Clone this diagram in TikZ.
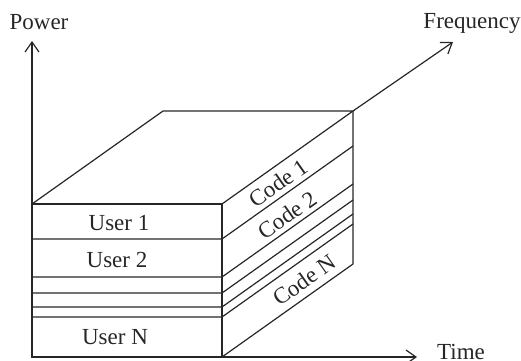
\documentclass[tikz,border=0pt]{standalone}
\usepackage{fontspec}
\setmainfont{Liberation Serif}
\usetikzlibrary{arrows.meta, calc}

\begin{document}
\begin{tikzpicture}[x=0.5pt, y=-0.5pt, line width=0.6pt, color=black!85,
    every node/.style={font=\fontsize{11.5}{13}\selectfont, inner sep=1pt},
    axis/.style={-{Straight Barb[length=5pt,width=7pt]}},
    code/.style={rotate=35.2}]
    \useasboundingbox (0,0) rectangle (521,360);
    % corners of the block
    \coordinate (o) at (32,357);
    \coordinate (ft) at (32,204);
    \coordinate (fr) at (222,204);
    \coordinate (br) at (222,357);
    \coordinate (bt) at (163,111);
    \coordinate (bb) at (353,111);
    \coordinate (bd) at (353,264);
    % axis ends
    \coordinate (pend) at (32,41);
    \coordinate (fend) at (453,42);
    \coordinate (tend) at (417,357);
    \node (power) at (39,22) {Power};
    \node (freq) at (472,23) {Frequency};
    \node (time) at (461,352) {Time};
    \draw[axis] (o) -- (pend);
    \draw[axis] (o) -- (tend);
    \draw[axis] (bb) -- (fend);
    % block
    \draw (ft) rectangle (br);
    \draw (ft) -- (bt) -- (bb) -- (fr);
    \draw (bb) -- (bd) -- (br);
    \foreach \y in {239,277,293,307,317}
        \draw (32,\y) -- (222,\y) -- ++(131,-93);
    \node (u1) at (119,223) {User 1};
    \node (u2) at (117,260) {User 2};
    \node (un) at (115,337) {User N};
    \node[code] (c1) at (278,183) {Code 1};
    \node[code] (c2) at (287,215) {Code 2};
    \node[code] (cn) at (304,280) {Code N};
\end{tikzpicture}
\end{document}
